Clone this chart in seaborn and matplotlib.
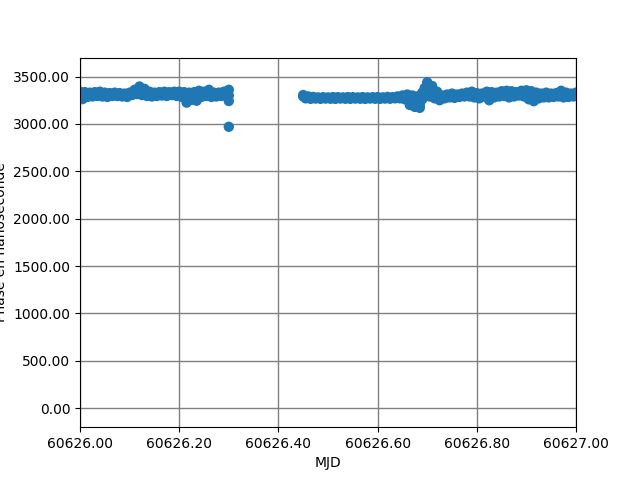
"""
Phase vs MJD scatter plot (phase in nanoseconds).
"""

import numpy as np
import pandas as pd
import matplotlib
matplotlib.use('Agg')
import matplotlib.pyplot as plt
from matplotlib.ticker import FormatStrFormatter
import seaborn as sns

MJD0 = 60626.0

# first run, offsets in days from MJD0 (upper samples on the hundredth,
# lower samples half a step later)
t_first = [0.00, 0.01, 0.02, 0.03, 0.04, 0.05, 0.06, 0.07, 0.08, 0.09,
           0.10, 0.11, 0.12, 0.13, 0.14, 0.15, 0.16, 0.17, 0.18, 0.19,
           0.20, 0.21, 0.22, 0.23, 0.24, 0.25, 0.26, 0.27, 0.28, 0.29, 0.30]
t_first_lo = [0.000, 0.005, 0.015, 0.025, 0.035, 0.045, 0.055, 0.065, 0.075,
              0.085, 0.095, 0.105, 0.115, 0.125, 0.135, 0.145, 0.155, 0.165,
              0.175, 0.185, 0.195, 0.205, 0.215, 0.225, 0.235, 0.245, 0.255,
              0.265, 0.275, 0.285, 0.300]
hi_first = [3340, 3335, 3330, 3335, 3340, 3330, 3325, 3330, 3325, 3320,
            3330, 3360, 3395, 3370, 3340, 3330, 3335, 3340, 3335, 3340,
            3340, 3335, 3330, 3335, 3350, 3340, 3360, 3330, 3330, 3340, 3360]
lo_first = [3275, 3262, 3285, 3290, 3295, 3290, 3285, 3295, 3295, 3290,
            3285, 3305, 3315, 3305, 3295, 3290, 3295, 3300, 3295, 3305,
            3295, 3285, 3225, 3255, 3245, 3285, 3295, 3285, 3290, 3295, 3242]

# single outlier at the end of the first run
t_outlier = [0.30]
y_outlier = [2970]

# second run
t_second = [0.45, 0.46, 0.47, 0.48, 0.49, 0.50, 0.51, 0.52, 0.53, 0.54,
            0.55, 0.56, 0.57, 0.58, 0.59, 0.60, 0.61, 0.62, 0.63, 0.64,
            0.65, 0.66, 0.67, 0.68, 0.69, 0.70, 0.71, 0.72, 0.73, 0.74,
            0.75, 0.76, 0.77, 0.78, 0.79, 0.80, 0.81, 0.82, 0.83, 0.84,
            0.85, 0.86, 0.87, 0.88, 0.89, 0.90, 0.91, 0.92, 0.93, 0.94,
            0.95, 0.96, 0.97, 0.98, 0.99, 1.00]
t_second_lo = [0.450, 0.455, 0.465, 0.475, 0.485, 0.495, 0.505, 0.515, 0.525,
               0.535, 0.545, 0.555, 0.565, 0.575, 0.585, 0.595, 0.605, 0.615,
               0.625, 0.635, 0.645, 0.655, 0.665, 0.675, 0.685, 0.695, 0.705,
               0.715, 0.725, 0.735, 0.745, 0.755, 0.765, 0.775, 0.785, 0.795,
               0.805, 0.815, 0.825, 0.835, 0.845, 0.855, 0.865, 0.875, 0.885,
               0.895, 0.905, 0.915, 0.925, 0.935, 0.945, 0.955, 0.965, 0.975,
               0.985, 0.995]
hi_second = [3305, 3290, 3285, 3280, 3282, 3280, 3283, 3282, 3280, 3283,
             3282, 3280, 3283, 3280, 3282, 3283, 3280, 3285, 3282, 3290,
             3300, 3310, 3300, 3290, 3330, 3440, 3400, 3340, 3300, 3310,
             3320, 3310, 3320, 3330, 3340, 3325, 3320, 3340, 3335, 3330,
             3345, 3350, 3345, 3335, 3350, 3355, 3345, 3330, 3320, 3330,
             3320, 3325, 3350, 3330, 3320, 3330]
lo_second = [3290, 3270, 3265, 3268, 3265, 3268, 3266, 3265, 3268, 3266,
             3265, 3268, 3266, 3265, 3268, 3266, 3265, 3268, 3266, 3270,
             3270, 3260, 3200, 3180, 3200, 3300, 3290, 3270, 3250, 3270,
             3280, 3275, 3285, 3290, 3290, 3280, 3270, 3290, 3250, 3280,
             3290, 3295, 3280, 3290, 3300, 3290, 3260, 3240, 3270, 3280,
             3280, 3285, 3290, 3280, 3285, 3290]

# extra samples through the dip and spike near 0.67-0.71, and the end of run 1
t_extra = [0.295, 0.300, 0.670, 0.680, 0.685, 0.690, 0.695, 0.700, 0.705,
           0.710, 0.715]
y_extra = [3320, 3300, 3230, 3200, 3170, 3260, 3380, 3420, 3370,
           3350, 3320]


def build_frame():
    """Stack all the pieces into one long table."""
    parts = []
    for t, y in [(t_first, hi_first), (t_first_lo, lo_first),
                 (t_second, hi_second), (t_second_lo, lo_second),
                 (t_extra, y_extra), (t_outlier, y_outlier)]:
        parts.append(pd.DataFrame({'mjd': MJD0 + np.array(t), 'phase': y}))
    return pd.concat(parts, ignore_index=True)


df = build_frame()

fig, ax = plt.subplots(figsize=(6.4, 4.8), dpi=100)
sns.scatterplot(data=df, x='mjd', y='phase', ax=ax, s=56,
                color='#1f77b4', linewidth=0, edgecolor='none')

ax.set_xlim(60626.0, 60627.0)
ax.set_ylim(-200, 3700)
ax.xaxis.set_major_formatter(FormatStrFormatter('%.2f'))
ax.yaxis.set_major_formatter(FormatStrFormatter('%.2f'))
ax.set_axisbelow(True)
ax.grid(True, color='gray', linewidth=1.0)
ax.set_xlabel('MJD')
ax.set_ylabel('Phase en nanoseconde')

plt.savefig('out.png', dpi=100)
plt.close()
